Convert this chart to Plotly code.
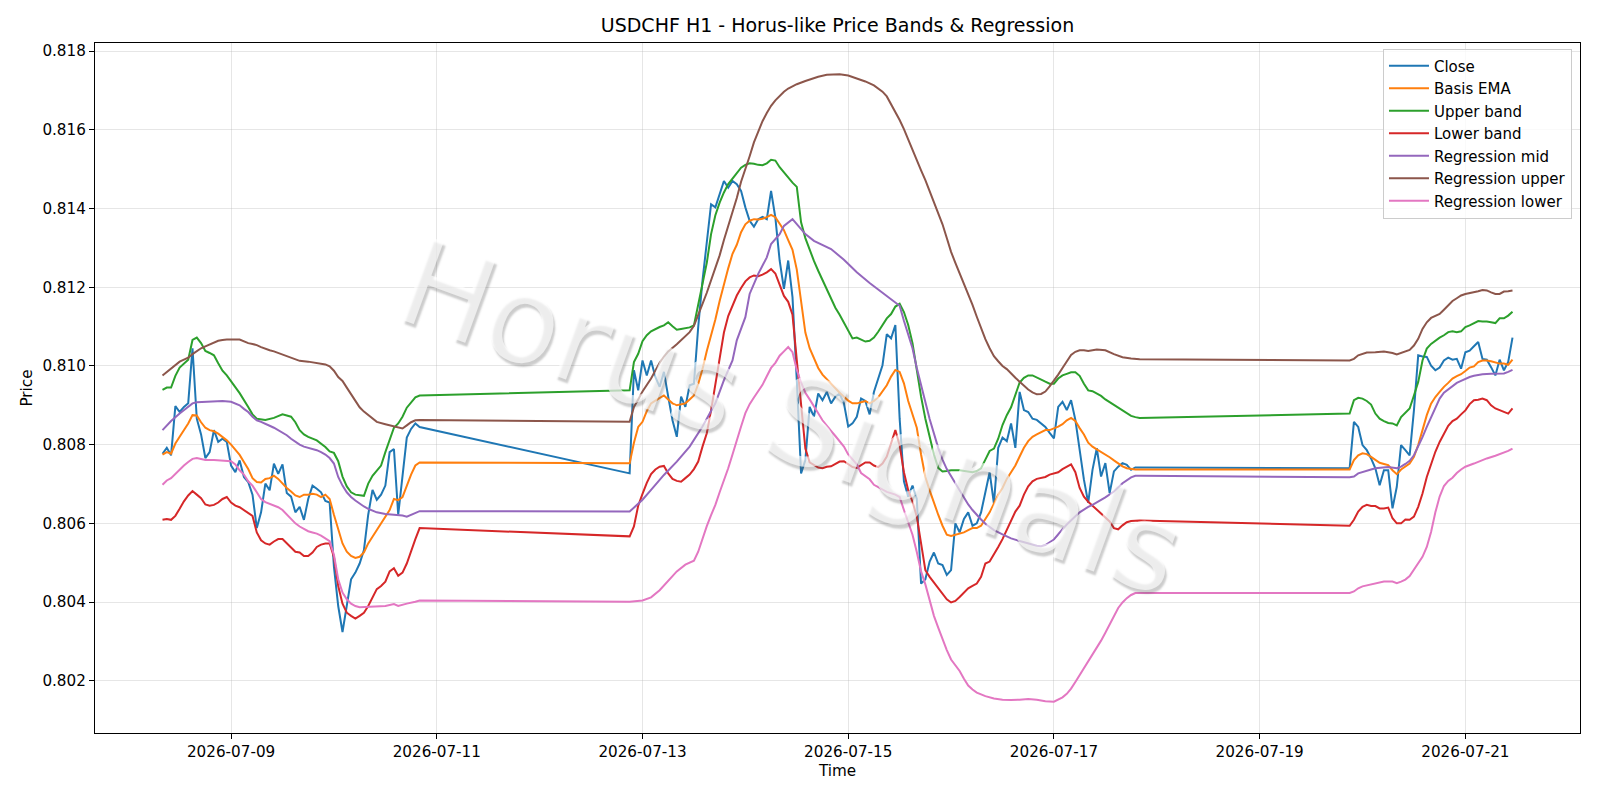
import pandas as pd
import plotly.graph_objects as go

YEAR = "2026"
TITLE = "USDCHF H1 - Horus-like Price Bands & Regression"
WATERMARK = "Horus Signals"
X_LABEL = "Time"
Y_LABEL = "Price"

CLOSE = [
    ("07-08 08", 0.80777), ("07-08 09", 0.80792), ("07-08 10", 0.80773), ("07-08 11", 0.80898),
    ("07-08 12", 0.80883), ("07-08 13", 0.80896), ("07-08 14", 0.80905), ("07-08 15", 0.81045),
    ("07-08 16", 0.80866), ("07-08 17", 0.80826), ("07-08 18", 0.80766), ("07-08 19", 0.80781),
    ("07-08 20", 0.80837), ("07-08 21", 0.80807), ("07-08 22", 0.80815), ("07-08 23", 0.80807),
    ("07-09 00", 0.80747), ("07-09 01", 0.80730), ("07-09 02", 0.80760), ("07-09 03", 0.80718),
    ("07-09 04", 0.80705), ("07-09 05", 0.80673), ("07-09 06", 0.80588), ("07-09 07", 0.80628),
    ("07-09 08", 0.80701), ("07-09 09", 0.80684), ("07-09 10", 0.80752), ("07-09 11", 0.80726),
    ("07-09 12", 0.80750), ("07-09 13", 0.80677), ("07-09 14", 0.80668), ("07-09 15", 0.80628),
    ("07-09 16", 0.80642), ("07-09 17", 0.80609), ("07-09 18", 0.80662), ("07-09 19", 0.80696),
    ("07-09 20", 0.80688), ("07-09 21", 0.80679), ("07-09 22", 0.80657), ("07-09 23", 0.80653),
    ("07-10 00", 0.80490), ("07-10 01", 0.80390), ("07-10 02", 0.80324), ("07-10 03", 0.80390),
    ("07-10 04", 0.80458), ("07-10 05", 0.80475), ("07-10 06", 0.80498), ("07-10 07", 0.80532),
    ("07-10 08", 0.80622), ("07-10 09", 0.80685), ("07-10 10", 0.80660), ("07-10 11", 0.80673),
    ("07-10 12", 0.80696), ("07-10 13", 0.80781), ("07-10 14", 0.80789), ("07-10 15", 0.80622),
    ("07-10 16", 0.80718), ("07-10 17", 0.80818), ("07-10 18", 0.80840), ("07-10 19", 0.80854),
    ("07-10 20", 0.80845),
    ("07-12 21", 0.80727), ("07-12 22", 0.80989), ("07-12 23", 0.80938),
    ("07-13 00", 0.81014), ("07-13 01", 0.80976), ("07-13 02", 0.81014), ("07-13 03", 0.80972),
    ("07-13 04", 0.80947), ("07-13 05", 0.80985), ("07-13 06", 0.80922), ("07-13 07", 0.80862),
    ("07-13 08", 0.80820), ("07-13 09", 0.80922), ("07-13 10", 0.80896), ("07-13 11", 0.80951),
    ("07-13 12", 0.80955), ("07-13 13", 0.81099), ("07-13 14", 0.81217), ("07-13 15", 0.81318),
    ("07-13 16", 0.81411), ("07-13 17", 0.81403), ("07-13 18", 0.81436), ("07-13 19", 0.81470),
    ("07-13 20", 0.81453), ("07-13 21", 0.81470), ("07-13 22", 0.81462), ("07-13 23", 0.81445),
    ("07-14 00", 0.81403), ("07-14 01", 0.81369), ("07-14 02", 0.81354), ("07-14 03", 0.81373),
    ("07-14 04", 0.81379), ("07-14 05", 0.81373), ("07-14 06", 0.81445), ("07-14 07", 0.81377),
    ("07-14 08", 0.81268), ("07-14 09", 0.81196), ("07-14 10", 0.81268), ("07-14 11", 0.81175),
    ("07-14 12", 0.80964), ("07-14 13", 0.80727), ("07-14 14", 0.80761), ("07-14 15", 0.80896),
    ("07-14 16", 0.80871), ("07-14 17", 0.80930), ("07-14 18", 0.80913), ("07-14 19", 0.80934),
    ("07-14 20", 0.80905), ("07-14 21", 0.80922), ("07-14 22", 0.80930), ("07-14 23", 0.80905),
    ("07-15 00", 0.80846), ("07-15 01", 0.80854), ("07-15 02", 0.80871), ("07-15 03", 0.80917),
    ("07-15 04", 0.80911), ("07-15 05", 0.80877), ("07-15 06", 0.80934), ("07-15 07", 0.80968),
    ("07-15 08", 0.81002), ("07-15 09", 0.81081), ("07-15 10", 0.81070), ("07-15 11", 0.81104),
    ("07-15 12", 0.80866), ("07-15 13", 0.80707), ("07-15 14", 0.80668), ("07-15 15", 0.80696),
    ("07-15 16", 0.80662), ("07-15 17", 0.80447), ("07-15 18", 0.80458), ("07-15 19", 0.80503),
    ("07-15 20", 0.80526), ("07-15 21", 0.80498), ("07-15 22", 0.80494), ("07-15 23", 0.80469),
    ("07-16 00", 0.80481), ("07-16 01", 0.80600), ("07-16 02", 0.80577), ("07-16 03", 0.80611),
    ("07-16 04", 0.80628), ("07-16 05", 0.80594), ("07-16 06", 0.80600), ("07-16 07", 0.80628),
    ("07-16 08", 0.80684), ("07-16 09", 0.80730), ("07-16 10", 0.80650), ("07-16 11", 0.80792),
    ("07-16 12", 0.80818), ("07-16 13", 0.80809), ("07-16 14", 0.80854), ("07-16 15", 0.80792),
    ("07-16 16", 0.80934), ("07-16 17", 0.80888), ("07-16 18", 0.80883), ("07-16 19", 0.80866),
    ("07-16 20", 0.80863), ("07-16 21", 0.80854), ("07-16 22", 0.80845), ("07-16 23", 0.80830),
    ("07-17 00", 0.80816), ("07-17 01", 0.80896), ("07-17 02", 0.80909), ("07-17 03", 0.80888),
    ("07-17 04", 0.80913), ("07-17 05", 0.80863), ("07-17 06", 0.80787), ("07-17 07", 0.80711),
    ("07-17 08", 0.80652), ("07-17 09", 0.80736), ("07-17 10", 0.80791), ("07-17 11", 0.80719),
    ("07-17 12", 0.80753), ("07-17 13", 0.80677), ("07-17 14", 0.80732), ("07-17 15", 0.80744),
    ("07-17 16", 0.80753), ("07-17 17", 0.80749), ("07-17 18", 0.80736), ("07-17 19", 0.80742),
    ("07-17 20", 0.80742),
    ("07-19 21", 0.80740), ("07-19 22", 0.80858), ("07-19 23", 0.80845),
    ("07-20 00", 0.80799), ("07-20 01", 0.80786), ("07-20 02", 0.80765), ("07-20 03", 0.80740),
    ("07-20 04", 0.80697), ("07-20 05", 0.80735), ("07-20 06", 0.80735), ("07-20 07", 0.80638),
    ("07-20 08", 0.80693), ("07-20 09", 0.80799), ("07-20 10", 0.80786), ("07-20 11", 0.80773),
    ("07-20 12", 0.80887), ("07-20 13", 0.81027), ("07-20 14", 0.81024), ("07-20 15", 0.81023),
    ("07-20 16", 0.81001), ("07-20 17", 0.80989), ("07-20 18", 0.80996), ("07-20 19", 0.81014),
    ("07-20 20", 0.81021), ("07-20 21", 0.81016), ("07-20 22", 0.81018), ("07-20 23", 0.80993),
    ("07-21 00", 0.81035), ("07-21 01", 0.81039), ("07-21 02", 0.81050), ("07-21 03", 0.81061),
    ("07-21 04", 0.81018), ("07-21 05", 0.81016), ("07-21 06", 0.80997), ("07-21 07", 0.80976),
    ("07-21 08", 0.81016), ("07-21 09", 0.80989), ("07-21 10", 0.81010), ("07-21 11", 0.81072),
]

BASIS_EMA = [
    ("07-08 08", 0.80775), ("07-08 09", 0.80781), ("07-08 10", 0.80777), ("07-08 11", 0.80803),
    ("07-08 12", 0.80820), ("07-08 13", 0.80837), ("07-08 14", 0.80854), ("07-08 15", 0.80875),
    ("07-08 16", 0.80874), ("07-08 17", 0.80857), ("07-08 18", 0.80843), ("07-08 19", 0.80837),
    ("07-08 20", 0.80834), ("07-08 21", 0.80828), ("07-08 22", 0.80820), ("07-08 23", 0.80811),
    ("07-09 00", 0.80800), ("07-09 01", 0.80788), ("07-09 02", 0.80774), ("07-09 03", 0.80756),
    ("07-09 04", 0.80738), ("07-09 05", 0.80715), ("07-09 06", 0.80705), ("07-09 07", 0.80704),
    ("07-09 08", 0.80713), ("07-09 09", 0.80715), ("07-09 10", 0.80721), ("07-09 11", 0.80713),
    ("07-09 12", 0.80701), ("07-09 13", 0.80690), ("07-09 14", 0.80681), ("07-09 15", 0.80671),
    ("07-09 16", 0.80667), ("07-09 17", 0.80673), ("07-09 18", 0.80673), ("07-09 19", 0.80675),
    ("07-09 20", 0.80673), ("07-09 21", 0.80667), ("07-09 22", 0.80673), ("07-09 23", 0.80662),
    ("07-10 00", 0.80622), ("07-10 01", 0.80583), ("07-10 02", 0.80549), ("07-10 03", 0.80528),
    ("07-10 04", 0.80517), ("07-10 05", 0.80512), ("07-10 06", 0.80515), ("07-10 07", 0.80526),
    ("07-10 08", 0.80549), ("07-10 09", 0.80566), ("07-10 10", 0.80583), ("07-10 11", 0.80600),
    ("07-10 12", 0.80614), ("07-10 13", 0.80634), ("07-10 14", 0.80662), ("07-10 15", 0.80659),
    ("07-10 16", 0.80667), ("07-10 17", 0.80698), ("07-10 18", 0.80724), ("07-10 19", 0.80747),
    ("07-10 20", 0.80755),
    ("07-12 21", 0.80753), ("07-12 22", 0.80805), ("07-12 23", 0.80845),
    ("07-13 00", 0.80858), ("07-13 01", 0.80885), ("07-13 02", 0.80905), ("07-13 03", 0.80912),
    ("07-13 04", 0.80919), ("07-13 05", 0.80925), ("07-13 06", 0.80915), ("07-13 07", 0.80905),
    ("07-13 08", 0.80900), ("07-13 09", 0.80902), ("07-13 10", 0.80905), ("07-13 11", 0.80915),
    ("07-13 12", 0.80925), ("07-13 13", 0.80954), ("07-13 14", 0.80992), ("07-13 15", 0.81038),
    ("07-13 16", 0.81075), ("07-13 17", 0.81118), ("07-13 18", 0.81165), ("07-13 19", 0.81208),
    ("07-13 20", 0.81248), ("07-13 21", 0.81285), ("07-13 22", 0.81308), ("07-13 23", 0.81340),
    ("07-14 00", 0.81360), ("07-14 01", 0.81369), ("07-14 02", 0.81373), ("07-14 03", 0.81372),
    ("07-14 04", 0.81374), ("07-14 05", 0.81378), ("07-14 06", 0.81384), ("07-14 07", 0.81378),
    ("07-14 08", 0.81362), ("07-14 09", 0.81345), ("07-14 10", 0.81320), ("07-14 11", 0.81295),
    ("07-14 12", 0.81245), ("07-14 13", 0.81170), ("07-14 14", 0.81085), ("07-14 15", 0.81045),
    ("07-14 16", 0.81020), ("07-14 17", 0.80995), ("07-14 18", 0.80978), ("07-14 19", 0.80966),
    ("07-14 20", 0.80955), ("07-14 21", 0.80942), ("07-14 22", 0.80932), ("07-14 23", 0.80922),
    ("07-15 00", 0.80912), ("07-15 01", 0.80905), ("07-15 02", 0.80905), ("07-15 03", 0.80908),
    ("07-15 04", 0.80911), ("07-15 05", 0.80905), ("07-15 06", 0.80911), ("07-15 07", 0.80920),
    ("07-15 08", 0.80934), ("07-15 09", 0.80951), ("07-15 10", 0.80973), ("07-15 11", 0.80990),
    ("07-15 12", 0.80985), ("07-15 13", 0.80956), ("07-15 14", 0.80911), ("07-15 15", 0.80877),
    ("07-15 16", 0.80843), ("07-15 17", 0.80775), ("07-15 18", 0.80718), ("07-15 19", 0.80684),
    ("07-15 20", 0.80650), ("07-15 21", 0.80622), ("07-15 22", 0.80594), ("07-15 23", 0.80571),
    ("07-16 00", 0.80568), ("07-16 01", 0.80571), ("07-16 02", 0.80574), ("07-16 03", 0.80577),
    ("07-16 04", 0.80583), ("07-16 05", 0.80588), ("07-16 06", 0.80588), ("07-16 07", 0.80594),
    ("07-16 08", 0.80611), ("07-16 09", 0.80628), ("07-16 10", 0.80650), ("07-16 11", 0.80673),
    ("07-16 12", 0.80690), ("07-16 13", 0.80713), ("07-16 14", 0.80730), ("07-16 15", 0.80747),
    ("07-16 16", 0.80770), ("07-16 17", 0.80792), ("07-16 18", 0.80809), ("07-16 19", 0.80820),
    ("07-16 20", 0.80826), ("07-16 21", 0.80832), ("07-16 22", 0.80837), ("07-16 23", 0.80837),
    ("07-17 00", 0.80841), ("07-17 01", 0.80846), ("07-17 02", 0.80852), ("07-17 03", 0.80862),
    ("07-17 04", 0.80868), ("07-17 05", 0.80860), ("07-17 06", 0.80842), ("07-17 07", 0.80826),
    ("07-17 08", 0.80805), ("07-17 09", 0.80795), ("07-17 10", 0.80788), ("07-17 11", 0.80782),
    ("07-17 12", 0.80776), ("07-17 13", 0.80768), ("07-17 14", 0.80760), ("07-17 15", 0.80752),
    ("07-17 16", 0.80745), ("07-17 17", 0.80740), ("07-17 18", 0.80738), ("07-17 19", 0.80737),
    ("07-17 20", 0.80737),
    ("07-19 21", 0.80737), ("07-19 22", 0.80761), ("07-19 23", 0.80773),
    ("07-20 00", 0.80778), ("07-20 01", 0.80776), ("07-20 02", 0.80769), ("07-20 03", 0.80761),
    ("07-20 04", 0.80754), ("07-20 05", 0.80751), ("07-20 06", 0.80748), ("07-20 07", 0.80735),
    ("07-20 08", 0.80725), ("07-20 09", 0.80737), ("07-20 10", 0.80744), ("07-20 11", 0.80752),
    ("07-20 12", 0.80769), ("07-20 13", 0.80799), ("07-20 14", 0.80837), ("07-20 15", 0.80875),
    ("07-20 16", 0.80904), ("07-20 17", 0.80921), ("07-20 18", 0.80934), ("07-20 19", 0.80947),
    ("07-20 20", 0.80957), ("07-20 21", 0.80968), ("07-20 22", 0.80974), ("07-20 23", 0.80979),
    ("07-21 00", 0.80987), ("07-21 01", 0.80996), ("07-21 02", 0.80999), ("07-21 03", 0.81010),
    ("07-21 04", 0.81014), ("07-21 05", 0.81014), ("07-21 06", 0.81012), ("07-21 07", 0.81008),
    ("07-21 08", 0.81006), ("07-21 09", 0.81006), ("07-21 10", 0.81003), ("07-21 11", 0.81016),
]

UPPER_BAND = [
    ("07-08 08", 0.80939), ("07-08 09", 0.80945), ("07-08 10", 0.80945), ("07-08 11", 0.80975),
    ("07-08 12", 0.80996), ("07-08 13", 0.81007), ("07-08 14", 0.81016), ("07-08 15", 0.81066),
    ("07-08 16", 0.81072), ("07-08 17", 0.81058), ("07-08 18", 0.81038), ("07-08 19", 0.81033),
    ("07-08 20", 0.81027), ("07-08 21", 0.81007), ("07-08 22", 0.80988), ("07-08 23", 0.80976),
    ("07-09 00", 0.80962), ("07-09 02", 0.80931), ("07-09 04", 0.80896), ("07-09 05", 0.80877),
    ("07-09 06", 0.80866), ("07-09 08", 0.80863), ("07-09 10", 0.80868), ("07-09 12", 0.80877),
    ("07-09 14", 0.80871), ("07-09 15", 0.80857), ("07-09 16", 0.80837), ("07-09 17", 0.80826),
    ("07-09 18", 0.80820), ("07-09 20", 0.80811), ("07-09 22", 0.80794), ("07-09 23", 0.80783),
    ("07-10 00", 0.80779), ("07-10 01", 0.80758), ("07-10 02", 0.80719), ("07-10 03", 0.80694),
    ("07-10 04", 0.80679), ("07-10 05", 0.80673), ("07-10 07", 0.80670), ("07-10 08", 0.80701),
    ("07-10 09", 0.80721), ("07-10 10", 0.80733), ("07-10 11", 0.80747), ("07-10 12", 0.80781),
    ("07-10 13", 0.80815), ("07-10 14", 0.80843), ("07-10 15", 0.80854), ("07-10 16", 0.80871),
    ("07-10 17", 0.80894), ("07-10 18", 0.80908), ("07-10 19", 0.80920), ("07-10 20", 0.80925),
    ("07-12 21", 0.80938), ("07-12 22", 0.81010), ("07-12 23", 0.81031),
    ("07-13 00", 0.81063), ("07-13 01", 0.81078), ("07-13 02", 0.81088), ("07-13 03", 0.81094),
    ("07-13 04", 0.81099), ("07-13 05", 0.81103), ("07-13 06", 0.81111), ("07-13 07", 0.81101),
    ("07-13 08", 0.81092), ("07-13 09", 0.81094), ("07-13 10", 0.81096), ("07-13 11", 0.81098),
    ("07-13 12", 0.81103), ("07-13 13", 0.81158), ("07-13 14", 0.81212), ("07-13 15", 0.81262),
    ("07-13 16", 0.81335), ("07-13 17", 0.81383), ("07-13 18", 0.81415), ("07-13 19", 0.81441),
    ("07-13 20", 0.81462), ("07-13 21", 0.81476), ("07-13 22", 0.81488), ("07-13 23", 0.81504),
    ("07-14 00", 0.81511), ("07-14 01", 0.81515), ("07-14 02", 0.81514), ("07-14 03", 0.81511),
    ("07-14 04", 0.81510), ("07-14 05", 0.81515), ("07-14 06", 0.81524), ("07-14 07", 0.81522),
    ("07-14 08", 0.81505), ("07-14 09", 0.81491), ("07-14 10", 0.81478), ("07-14 11", 0.81466),
    ("07-14 12", 0.81455), ("07-14 13", 0.81365), ("07-14 14", 0.81325), ("07-14 15", 0.81295),
    ("07-14 16", 0.81267), ("07-14 17", 0.81242), ("07-14 18", 0.81218), ("07-14 19", 0.81192),
    ("07-14 20", 0.81168), ("07-14 21", 0.81148), ("07-14 22", 0.81130), ("07-14 23", 0.81110),
    ("07-15 00", 0.81088), ("07-15 01", 0.81070), ("07-15 02", 0.81072), ("07-15 03", 0.81066),
    ("07-15 04", 0.81062), ("07-15 05", 0.81064), ("07-15 06", 0.81072), ("07-15 07", 0.81087),
    ("07-15 08", 0.81104), ("07-15 09", 0.81121), ("07-15 10", 0.81132), ("07-15 11", 0.81151),
    ("07-15 12", 0.81158), ("07-15 13", 0.81137), ("07-15 14", 0.81104), ("07-15 15", 0.81058),
    ("07-15 16", 0.80990), ("07-15 17", 0.80922), ("07-15 18", 0.80866), ("07-15 19", 0.80820),
    ("07-15 20", 0.80775), ("07-15 21", 0.80741), ("07-15 22", 0.80732), ("07-15 23", 0.80733),
    ("07-16 00", 0.80735), ("07-16 02", 0.80735), ("07-16 04", 0.80732), ("07-16 05", 0.80730),
    ("07-16 06", 0.80733), ("07-16 07", 0.80740), ("07-16 08", 0.80762), ("07-16 09", 0.80784),
    ("07-16 10", 0.80790), ("07-16 11", 0.80815), ("07-16 12", 0.80850), ("07-16 13", 0.80875),
    ("07-16 14", 0.80895), ("07-16 15", 0.80925), ("07-16 16", 0.80958), ("07-16 17", 0.80970),
    ("07-16 18", 0.80976), ("07-16 19", 0.80976), ("07-16 20", 0.80970), ("07-16 21", 0.80965),
    ("07-16 22", 0.80960), ("07-16 23", 0.80955), ("07-17 00", 0.80955), ("07-17 01", 0.80968),
    ("07-17 02", 0.80976), ("07-17 03", 0.80980), ("07-17 04", 0.80984), ("07-17 05", 0.80984),
    ("07-17 06", 0.80975), ("07-17 07", 0.80955), ("07-17 08", 0.80938), ("07-17 09", 0.80936),
    ("07-17 10", 0.80930), ("07-17 11", 0.80924), ("07-17 12", 0.80915), ("07-17 13", 0.80908),
    ("07-17 14", 0.80900), ("07-17 15", 0.80893), ("07-17 16", 0.80887), ("07-17 17", 0.80880),
    ("07-17 18", 0.80873), ("07-17 19", 0.80870), ("07-17 20", 0.80868),
    ("07-19 21", 0.80879), ("07-19 22", 0.80913), ("07-19 23", 0.80919),
    ("07-20 00", 0.80917), ("07-20 01", 0.80911), ("07-20 02", 0.80902), ("07-20 03", 0.80879),
    ("07-20 04", 0.80866), ("07-20 05", 0.80860), ("07-20 06", 0.80855), ("07-20 07", 0.80854),
    ("07-20 08", 0.80849), ("07-20 09", 0.80870), ("07-20 10", 0.80881), ("07-20 11", 0.80892),
    ("07-20 12", 0.80925), ("07-20 13", 0.80959), ("07-20 14", 0.81014), ("07-20 15", 0.81044),
    ("07-20 16", 0.81056), ("07-20 17", 0.81065), ("07-20 18", 0.81072), ("07-20 19", 0.81078),
    ("07-20 20", 0.81086), ("07-20 21", 0.81088), ("07-20 22", 0.81086), ("07-20 23", 0.81088),
    ("07-21 00", 0.81099), ("07-21 01", 0.81103), ("07-21 02", 0.81109), ("07-21 03", 0.81114),
    ("07-21 04", 0.81113), ("07-21 05", 0.81113), ("07-21 06", 0.81111), ("07-21 07", 0.81109),
    ("07-21 08", 0.81121), ("07-21 09", 0.81121), ("07-21 10", 0.81128), ("07-21 11", 0.81138),
]

LOWER_BAND = [
    ("07-08 08", 0.80609), ("07-08 09", 0.80611), ("07-08 10", 0.80609), ("07-08 11", 0.80619),
    ("07-08 12", 0.80637), ("07-08 13", 0.80656), ("07-08 14", 0.80671), ("07-08 15", 0.80682),
    ("07-08 16", 0.80673), ("07-08 17", 0.80664), ("07-08 18", 0.80648), ("07-08 19", 0.80645),
    ("07-08 20", 0.80647), ("07-08 21", 0.80653), ("07-08 22", 0.80662), ("07-08 23", 0.80667),
    ("07-09 00", 0.80653), ("07-09 01", 0.80645), ("07-09 02", 0.80641), ("07-09 03", 0.80634),
    ("07-09 04", 0.80628), ("07-09 05", 0.80619), ("07-09 06", 0.80577), ("07-09 07", 0.80557),
    ("07-09 08", 0.80549), ("07-09 09", 0.80546), ("07-09 10", 0.80554), ("07-09 11", 0.80560),
    ("07-09 12", 0.80560), ("07-09 13", 0.80549), ("07-09 14", 0.80537), ("07-09 15", 0.80528),
    ("07-09 16", 0.80526), ("07-09 17", 0.80517), ("07-09 18", 0.80517), ("07-09 19", 0.80526),
    ("07-09 20", 0.80540), ("07-09 21", 0.80546), ("07-09 22", 0.80549), ("07-09 23", 0.80549),
    ("07-10 00", 0.80515), ("07-10 01", 0.80441), ("07-10 02", 0.80396), ("07-10 03", 0.80373),
    ("07-10 04", 0.80365), ("07-10 05", 0.80358), ("07-10 06", 0.80365), ("07-10 07", 0.80373),
    ("07-10 08", 0.80390), ("07-10 09", 0.80413), ("07-10 10", 0.80433), ("07-10 11", 0.80441),
    ("07-10 12", 0.80452), ("07-10 13", 0.80478), ("07-10 14", 0.80486), ("07-10 15", 0.80467),
    ("07-10 16", 0.80475), ("07-10 17", 0.80498), ("07-10 18", 0.80532), ("07-10 19", 0.80560),
    ("07-10 20", 0.80588),
    ("07-12 21", 0.80567), ("07-12 22", 0.80592), ("07-12 23", 0.80645),
    ("07-13 00", 0.80675), ("07-13 01", 0.80703), ("07-13 02", 0.80725), ("07-13 03", 0.80737),
    ("07-13 04", 0.80744), ("07-13 05", 0.80746), ("07-13 06", 0.80727), ("07-13 07", 0.80713),
    ("07-13 08", 0.80708), ("07-13 09", 0.80706), ("07-13 10", 0.80715), ("07-13 11", 0.80724),
    ("07-13 12", 0.80738), ("07-13 13", 0.80757), ("07-13 14", 0.80795), ("07-13 15", 0.80829),
    ("07-13 16", 0.80887), ("07-13 17", 0.80953), ("07-13 18", 0.81025), ("07-13 19", 0.81085),
    ("07-13 20", 0.81127), ("07-13 21", 0.81155), ("07-13 22", 0.81179), ("07-13 23", 0.81198),
    ("07-14 00", 0.81215), ("07-14 01", 0.81225), ("07-14 02", 0.81230), ("07-14 03", 0.81228),
    ("07-14 04", 0.81232), ("07-14 05", 0.81238), ("07-14 06", 0.81246), ("07-14 07", 0.81235),
    ("07-14 08", 0.81205), ("07-14 09", 0.81178), ("07-14 10", 0.81163), ("07-14 11", 0.81130),
    ("07-14 12", 0.81015), ("07-14 13", 0.80895), ("07-14 14", 0.80790), ("07-14 15", 0.80755),
    ("07-14 16", 0.80748), ("07-14 17", 0.80742), ("07-14 18", 0.80740), ("07-14 19", 0.80744),
    ("07-14 20", 0.80745), ("07-14 21", 0.80750), ("07-14 22", 0.80757), ("07-14 23", 0.80758),
    ("07-15 00", 0.80750), ("07-15 01", 0.80743), ("07-15 02", 0.80741), ("07-15 03", 0.80747),
    ("07-15 04", 0.80755), ("07-15 05", 0.80755), ("07-15 06", 0.80747), ("07-15 07", 0.80743),
    ("07-15 08", 0.80752), ("07-15 09", 0.80770), ("07-15 10", 0.80805), ("07-15 11", 0.80837),
    ("07-15 12", 0.80798), ("07-15 13", 0.80730), ("07-15 14", 0.80684), ("07-15 15", 0.80655),
    ("07-15 16", 0.80617), ("07-15 17", 0.80549), ("07-15 18", 0.80481), ("07-15 19", 0.80464),
    ("07-15 20", 0.80449), ("07-15 21", 0.80435), ("07-15 22", 0.80422), ("07-15 23", 0.80407),
    ("07-16 00", 0.80399), ("07-16 01", 0.80403), ("07-16 02", 0.80413), ("07-16 03", 0.80424),
    ("07-16 04", 0.80435), ("07-16 05", 0.80441), ("07-16 06", 0.80447), ("07-16 07", 0.80464),
    ("07-16 08", 0.80498), ("07-16 09", 0.80503), ("07-16 10", 0.80520), ("07-16 11", 0.80540),
    ("07-16 12", 0.80560), ("07-16 13", 0.80583), ("07-16 14", 0.80605), ("07-16 15", 0.80630),
    ("07-16 16", 0.80645), ("07-16 17", 0.80673), ("07-16 18", 0.80694), ("07-16 19", 0.80707),
    ("07-16 20", 0.80713), ("07-16 21", 0.80715), ("07-16 22", 0.80718), ("07-16 23", 0.80724),
    ("07-17 00", 0.80728), ("07-17 01", 0.80730), ("07-17 02", 0.80738), ("07-17 03", 0.80745),
    ("07-17 04", 0.80750), ("07-17 05", 0.80730), ("07-17 06", 0.80690), ("07-17 07", 0.80668),
    ("07-17 08", 0.80655), ("07-17 09", 0.80645), ("07-17 10", 0.80635), ("07-17 11", 0.80625),
    ("07-17 12", 0.80617), ("07-17 13", 0.80605), ("07-17 14", 0.80588), ("07-17 15", 0.80585),
    ("07-17 16", 0.80595), ("07-17 17", 0.80603), ("07-17 18", 0.80606), ("07-17 19", 0.80607),
    ("07-17 20", 0.80607),
    ("07-19 21", 0.80594), ("07-19 22", 0.80609), ("07-19 23", 0.80630),
    ("07-20 00", 0.80642), ("07-20 01", 0.80647), ("07-20 02", 0.80644), ("07-20 03", 0.80644),
    ("07-20 04", 0.80638), ("07-20 05", 0.80638), ("07-20 06", 0.80640), ("07-20 07", 0.80613),
    ("07-20 08", 0.80600), ("07-20 09", 0.80600), ("07-20 10", 0.80610), ("07-20 11", 0.80609),
    ("07-20 12", 0.80617), ("07-20 13", 0.80642), ("07-20 14", 0.80676), ("07-20 15", 0.80718),
    ("07-20 16", 0.80752), ("07-20 17", 0.80782), ("07-20 18", 0.80807), ("07-20 19", 0.80828),
    ("07-20 20", 0.80848), ("07-20 21", 0.80860), ("07-20 22", 0.80866), ("07-20 23", 0.80877),
    ("07-21 00", 0.80887), ("07-21 01", 0.80903), ("07-21 02", 0.80913), ("07-21 03", 0.80914),
    ("07-21 04", 0.80917), ("07-21 05", 0.80913), ("07-21 06", 0.80900), ("07-21 07", 0.80892),
    ("07-21 08", 0.80887), ("07-21 09", 0.80883), ("07-21 10", 0.80879), ("07-21 11", 0.80892),
]

REGRESSION_MID = [
    ("07-08 08", 0.80837), ("07-08 10", 0.80860), ("07-08 12", 0.80879), ("07-08 14", 0.80896),
    ("07-08 15", 0.80905), ("07-08 16", 0.80908), ("07-08 18", 0.80909), ("07-08 20", 0.80911),
    ("07-08 22", 0.80911), ("07-09 00", 0.80909), ("07-09 01", 0.80905), ("07-09 02", 0.80900),
    ("07-09 03", 0.80891), ("07-09 04", 0.80883), ("07-09 05", 0.80871), ("07-09 06", 0.80862),
    ("07-09 07", 0.80858), ("07-09 08", 0.80852), ("07-09 09", 0.80848), ("07-09 10", 0.80843),
    ("07-09 11", 0.80837), ("07-09 12", 0.80832), ("07-09 13", 0.80824), ("07-09 14", 0.80815),
    ("07-09 15", 0.80807), ("07-09 16", 0.80800), ("07-09 17", 0.80795), ("07-09 18", 0.80792),
    ("07-09 19", 0.80790), ("07-09 20", 0.80786), ("07-09 21", 0.80781), ("07-09 22", 0.80775),
    ("07-09 23", 0.80766), ("07-10 00", 0.80752), ("07-10 01", 0.80718), ("07-10 02", 0.80696),
    ("07-10 03", 0.80679), ("07-10 04", 0.80667), ("07-10 05", 0.80658), ("07-10 06", 0.80650),
    ("07-10 07", 0.80643), ("07-10 08", 0.80637), ("07-10 09", 0.80632), ("07-10 10", 0.80628),
    ("07-10 12", 0.80624), ("07-10 14", 0.80622), ("07-10 16", 0.80620), ("07-10 17", 0.80617),
    ("07-10 18", 0.80622), ("07-10 19", 0.80628), ("07-10 20", 0.80631),
    ("07-12 21", 0.80630), ("07-13 00", 0.80660), ("07-13 02", 0.80685), ("07-13 05", 0.80723),
    ("07-13 08", 0.80757), ("07-13 11", 0.80795), ("07-13 14", 0.80846), ("07-13 17", 0.80905),
    ("07-13 19", 0.80964), ("07-13 21", 0.81014), ("07-13 22", 0.81065), ("07-14 00", 0.81124),
    ("07-14 01", 0.81183), ("07-14 03", 0.81234), ("07-14 05", 0.81276), ("07-14 06", 0.81310),
    ("07-14 08", 0.81335), ("07-14 09", 0.81356), ("07-14 11", 0.81373), ("07-14 12", 0.81360),
    ("07-14 14", 0.81335), ("07-14 16", 0.81318), ("07-14 20", 0.81297), ("07-14 23", 0.81270),
    ("07-15 02", 0.81238), ("07-15 05", 0.81211), ("07-15 07", 0.81194), ("07-15 09", 0.81177),
    ("07-15 12", 0.81153), ("07-15 13", 0.81115), ("07-15 15", 0.81045), ("07-15 16", 0.80995),
    ("07-15 18", 0.80905), ("07-15 19", 0.80865), ("07-15 21", 0.80792), ("07-15 22", 0.80762),
    ("07-15 23", 0.80738), ("07-16 00", 0.80720), ("07-16 01", 0.80700), ("07-16 02", 0.80682),
    ("07-16 03", 0.80665), ("07-16 04", 0.80648), ("07-16 05", 0.80634), ("07-16 06", 0.80621),
    ("07-16 07", 0.80610), ("07-16 08", 0.80599), ("07-16 10", 0.80583), ("07-16 12", 0.80572),
    ("07-16 14", 0.80562), ("07-16 16", 0.80555), ("07-16 18", 0.80548), ("07-16 20", 0.80543),
    ("07-16 21", 0.80542), ("07-16 22", 0.80545), ("07-16 23", 0.80552), ("07-17 00", 0.80559),
    ("07-17 02", 0.80585), ("07-17 03", 0.80597), ("07-17 05", 0.80618), ("07-17 06", 0.80628),
    ("07-17 08", 0.80642), ("07-17 09", 0.80647), ("07-17 12", 0.80666), ("07-17 14", 0.80681),
    ("07-17 16", 0.80702), ("07-17 18", 0.80717), ("07-17 19", 0.80721), ("07-17 20", 0.80721),
    ("07-19 21", 0.80717), ("07-19 22", 0.80719), ("07-19 23", 0.80727), ("07-20 00", 0.80731),
    ("07-20 01", 0.80735), ("07-20 02", 0.80737), ("07-20 03", 0.80740), ("07-20 05", 0.80742),
    ("07-20 06", 0.80743), ("07-20 08", 0.80740), ("07-20 09", 0.80744), ("07-20 10", 0.80751),
    ("07-20 11", 0.80759), ("07-20 12", 0.80773), ("07-20 13", 0.80794), ("07-20 14", 0.80819),
    ("07-20 15", 0.80845), ("07-20 16", 0.80870), ("07-20 17", 0.80896), ("07-20 18", 0.80917),
    ("07-20 19", 0.80932), ("07-20 20", 0.80940), ("07-20 21", 0.80948), ("07-20 22", 0.80957),
    ("07-20 23", 0.80962), ("07-21 00", 0.80968), ("07-21 01", 0.80972), ("07-21 02", 0.80975),
    ("07-21 03", 0.80977), ("07-21 04", 0.80979), ("07-21 06", 0.80980), ("07-21 08", 0.80980),
    ("07-21 09", 0.80981), ("07-21 10", 0.80985), ("07-21 11", 0.80990),
]

REGRESSION_UPPER = [
    ("07-08 08", 0.80976), ("07-08 09", 0.80985), ("07-08 10", 0.80994), ("07-08 11", 0.81004),
    ("07-08 12", 0.81011), ("07-08 13", 0.81016), ("07-08 14", 0.81021), ("07-08 15", 0.81030),
    ("07-08 16", 0.81038), ("07-08 17", 0.81045), ("07-08 18", 0.81050), ("07-08 19", 0.81055),
    ("07-08 20", 0.81061), ("07-08 21", 0.81064), ("07-08 22", 0.81066), ("07-08 23", 0.81067),
    ("07-09 02", 0.81067), ("07-09 03", 0.81062), ("07-09 04", 0.81058), ("07-09 05", 0.81056),
    ("07-09 06", 0.81053), ("07-09 07", 0.81048), ("07-09 08", 0.81043), ("07-09 09", 0.81040),
    ("07-09 10", 0.81037), ("07-09 11", 0.81033), ("07-09 12", 0.81029), ("07-09 13", 0.81024),
    ("07-09 14", 0.81021), ("07-09 15", 0.81016), ("07-09 16", 0.81013), ("07-09 18", 0.81011),
    ("07-09 20", 0.81008), ("07-09 21", 0.81007), ("07-09 22", 0.81004), ("07-09 23", 0.80999),
    ("07-10 00", 0.80988), ("07-10 01", 0.80972), ("07-10 02", 0.80962), ("07-10 03", 0.80945),
    ("07-10 05", 0.80911), ("07-10 06", 0.80895), ("07-10 07", 0.80884), ("07-10 09", 0.80868),
    ("07-10 10", 0.80858), ("07-10 12", 0.80852), ("07-10 14", 0.80847), ("07-10 16", 0.80841),
    ("07-10 17", 0.80849), ("07-10 18", 0.80857), ("07-10 19", 0.80862), ("07-10 20", 0.80863),
    ("07-12 21", 0.80858), ("07-12 22", 0.80896), ("07-12 23", 0.80915),
    ("07-13 00", 0.80935), ("07-13 02", 0.80968), ("07-13 03", 0.80989), ("07-13 04", 0.81008),
    ("07-13 05", 0.81024), ("07-13 06", 0.81037), ("07-13 08", 0.81055), ("07-13 10", 0.81074),
    ("07-13 11", 0.81086), ("07-13 12", 0.81102), ("07-13 13", 0.81128), ("07-13 14", 0.81158),
    ("07-13 15", 0.81186), ("07-13 16", 0.81218), ("07-13 17", 0.81249), ("07-13 18", 0.81281),
    ("07-13 19", 0.81320), ("07-13 20", 0.81355), ("07-13 21", 0.81392), ("07-13 22", 0.81427),
    ("07-13 23", 0.81468), ("07-14 00", 0.81498), ("07-14 01", 0.81533), ("07-14 02", 0.81568),
    ("07-14 03", 0.81597), ("07-14 04", 0.81622), ("07-14 05", 0.81643), ("07-14 06", 0.81661),
    ("07-14 07", 0.81675), ("07-14 08", 0.81687), ("07-14 09", 0.81697), ("07-14 10", 0.81705),
    ("07-14 12", 0.81716), ("07-14 14", 0.81724), ("07-14 17", 0.81735), ("07-14 19", 0.81740),
    ("07-14 22", 0.81741), ("07-15 00", 0.81738), ("07-15 02", 0.81731), ("07-15 04", 0.81723),
    ("07-15 06", 0.81713), ("07-15 07", 0.81705), ("07-15 08", 0.81697), ("07-15 09", 0.81685),
    ("07-15 10", 0.81666), ("07-15 11", 0.81645), ("07-15 12", 0.81625), ("07-15 13", 0.81602),
    ("07-15 14", 0.81575), ("07-15 15", 0.81548), ("07-15 16", 0.81523), ("07-15 17", 0.81497),
    ("07-15 18", 0.81472), ("07-15 19", 0.81445), ("07-15 20", 0.81418), ("07-15 21", 0.81392),
    ("07-15 22", 0.81360), ("07-15 23", 0.81325), ("07-16 00", 0.81290), ("07-16 01", 0.81262),
    ("07-16 02", 0.81236), ("07-16 03", 0.81210), ("07-16 04", 0.81182), ("07-16 05", 0.81155),
    ("07-16 06", 0.81125), ("07-16 07", 0.81095), ("07-16 08", 0.81068), ("07-16 09", 0.81045),
    ("07-16 10", 0.81025), ("07-16 11", 0.81012), ("07-16 12", 0.81000), ("07-16 13", 0.80992),
    ("07-16 14", 0.80980), ("07-16 15", 0.80970), ("07-16 16", 0.80960), ("07-16 17", 0.80950),
    ("07-16 18", 0.80940), ("07-16 19", 0.80933), ("07-16 20", 0.80928), ("07-16 21", 0.80929),
    ("07-16 22", 0.80935), ("07-16 23", 0.80948), ("07-17 00", 0.80962), ("07-17 01", 0.80978),
    ("07-17 02", 0.80995), ("07-17 03", 0.81012), ("07-17 04", 0.81028), ("07-17 05", 0.81036),
    ("07-17 06", 0.81040), ("07-17 07", 0.81040), ("07-17 08", 0.81038), ("07-17 10", 0.81042),
    ("07-17 12", 0.81040), ("07-17 14", 0.81030), ("07-17 16", 0.81022), ("07-17 18", 0.81019),
    ("07-17 20", 0.81017),
    ("07-19 21", 0.81014), ("07-19 22", 0.81018), ("07-19 23", 0.81027), ("07-20 00", 0.81031),
    ("07-20 01", 0.81034), ("07-20 03", 0.81035), ("07-20 05", 0.81037), ("07-20 06", 0.81035),
    ("07-20 07", 0.81033), ("07-20 08", 0.81029), ("07-20 09", 0.81033), ("07-20 10", 0.81038),
    ("07-20 11", 0.81041), ("07-20 12", 0.81052), ("07-20 13", 0.81069), ("07-20 14", 0.81094),
    ("07-20 15", 0.81111), ("07-20 16", 0.81122), ("07-20 17", 0.81126), ("07-20 18", 0.81132),
    ("07-20 19", 0.81143), ("07-20 20", 0.81154), ("07-20 21", 0.81165), ("07-20 22", 0.81172),
    ("07-20 23", 0.81179), ("07-21 00", 0.81183), ("07-21 01", 0.81185), ("07-21 02", 0.81187),
    ("07-21 03", 0.81190), ("07-21 04", 0.81193), ("07-21 05", 0.81192), ("07-21 06", 0.81187),
    ("07-21 07", 0.81183), ("07-21 08", 0.81183), ("07-21 09", 0.81189), ("07-21 10", 0.81190),
    ("07-21 11", 0.81192),
]

REGRESSION_LOWER = [
    ("07-08 08", 0.80698), ("07-08 09", 0.80709), ("07-08 10", 0.80715), ("07-08 11", 0.80726),
    ("07-08 12", 0.80735), ("07-08 13", 0.80747), ("07-08 14", 0.80756), ("07-08 15", 0.80764),
    ("07-08 16", 0.80766), ("07-08 17", 0.80764), ("07-08 18", 0.80761), ("07-08 20", 0.80761),
    ("07-08 22", 0.80760), ("07-09 00", 0.80758), ("07-09 01", 0.80750), ("07-09 02", 0.80735),
    ("07-09 03", 0.80724), ("07-09 04", 0.80707), ("07-09 05", 0.80696), ("07-09 06", 0.80679),
    ("07-09 07", 0.80662), ("07-09 08", 0.80654), ("07-09 09", 0.80650), ("07-09 10", 0.80645),
    ("07-09 11", 0.80641), ("07-09 12", 0.80634), ("07-09 13", 0.80622), ("07-09 14", 0.80611),
    ("07-09 15", 0.80600), ("07-09 16", 0.80592), ("07-09 17", 0.80585), ("07-09 18", 0.80580),
    ("07-09 19", 0.80577), ("07-09 20", 0.80574), ("07-09 21", 0.80569), ("07-09 22", 0.80563),
    ("07-09 23", 0.80555), ("07-10 00", 0.80520), ("07-10 01", 0.80458), ("07-10 02", 0.80424),
    ("07-10 03", 0.80407), ("07-10 04", 0.80396), ("07-10 05", 0.80390), ("07-10 06", 0.80387),
    ("07-10 08", 0.80388), ("07-10 10", 0.80388), ("07-10 12", 0.80390), ("07-10 14", 0.80395),
    ("07-10 15", 0.80390), ("07-10 17", 0.80396), ("07-10 18", 0.80398), ("07-10 19", 0.80401),
    ("07-10 20", 0.80404),
    ("07-12 21", 0.80401), ("07-13 00", 0.80404), ("07-13 02", 0.80412), ("07-13 04", 0.80430),
    ("07-13 06", 0.80455), ("07-13 08", 0.80478), ("07-13 10", 0.80495), ("07-13 12", 0.80505),
    ("07-13 13", 0.80528), ("07-13 14", 0.80562), ("07-13 15", 0.80593), ("07-13 16", 0.80621),
    ("07-13 17", 0.80647), ("07-13 18", 0.80679), ("07-13 19", 0.80708), ("07-13 20", 0.80740),
    ("07-13 21", 0.80775), ("07-13 22", 0.80813), ("07-13 23", 0.80846), ("07-14 00", 0.80880),
    ("07-14 01", 0.80903), ("07-14 02", 0.80920), ("07-14 03", 0.80935), ("07-14 04", 0.80952),
    ("07-14 05", 0.80974), ("07-14 06", 0.80995), ("07-14 07", 0.81008), ("07-14 08", 0.81026),
    ("07-14 09", 0.81037), ("07-14 10", 0.81048), ("07-14 11", 0.81035), ("07-14 12", 0.80990),
    ("07-14 13", 0.80958), ("07-14 14", 0.80932), ("07-14 15", 0.80915), ("07-14 16", 0.80896),
    ("07-14 17", 0.80880), ("07-14 18", 0.80862), ("07-14 19", 0.80847), ("07-14 20", 0.80835),
    ("07-14 21", 0.80822), ("07-14 22", 0.80808), ("07-14 23", 0.80795), ("07-15 00", 0.80775),
    ("07-15 02", 0.80750), ("07-15 03", 0.80728), ("07-15 05", 0.80712), ("07-15 06", 0.80698),
    ("07-15 08", 0.80686), ("07-15 09", 0.80680), ("07-15 11", 0.80673), ("07-15 12", 0.80667),
    ("07-15 13", 0.80634), ("07-15 14", 0.80600), ("07-15 15", 0.80571), ("07-15 16", 0.80527),
    ("07-15 17", 0.80478), ("07-15 18", 0.80445), ("07-15 19", 0.80405), ("07-15 20", 0.80365),
    ("07-15 21", 0.80335), ("07-15 22", 0.80305), ("07-15 23", 0.80278), ("07-16 00", 0.80254),
    ("07-16 02", 0.80225), ("07-16 03", 0.80205), ("07-16 04", 0.80188), ("07-16 05", 0.80178),
    ("07-16 06", 0.80170), ("07-16 08", 0.80161), ("07-16 10", 0.80155), ("07-16 12", 0.80152),
    ("07-16 14", 0.80151), ("07-16 16", 0.80152), ("07-16 18", 0.80154), ("07-16 20", 0.80152),
    ("07-16 22", 0.80148), ("07-17 00", 0.80147), ("07-17 01", 0.80152), ("07-17 02", 0.80158),
    ("07-17 03", 0.80167), ("07-17 04", 0.80180), ("07-17 05", 0.80197), ("07-17 06", 0.80214),
    ("07-17 07", 0.80232), ("07-17 08", 0.80250), ("07-17 09", 0.80268), ("07-17 10", 0.80285),
    ("07-17 11", 0.80302), ("07-17 12", 0.80322), ("07-17 13", 0.80343), ("07-17 14", 0.80363),
    ("07-17 15", 0.80385), ("07-17 16", 0.80399), ("07-17 17", 0.80410), ("07-17 18", 0.80418),
    ("07-17 19", 0.80423), ("07-17 20", 0.80423),
    ("07-19 21", 0.80423), ("07-19 22", 0.80427), ("07-19 23", 0.80435), ("07-20 00", 0.80440),
    ("07-20 02", 0.80445), ("07-20 04", 0.80450), ("07-20 05", 0.80452), ("07-20 07", 0.80452),
    ("07-20 08", 0.80448), ("07-20 09", 0.80452), ("07-20 10", 0.80457), ("07-20 11", 0.80466),
    ("07-20 12", 0.80482), ("07-20 13", 0.80497), ("07-20 14", 0.80515), ("07-20 15", 0.80540),
    ("07-20 16", 0.80578), ("07-20 17", 0.80628), ("07-20 18", 0.80668), ("07-20 19", 0.80695),
    ("07-20 20", 0.80708), ("07-20 21", 0.80716), ("07-20 22", 0.80728), ("07-20 23", 0.80737),
    ("07-21 00", 0.80744), ("07-21 02", 0.80752), ("07-21 04", 0.80762), ("07-21 05", 0.80765),
    ("07-21 07", 0.80772), ("07-21 08", 0.80776), ("07-21 09", 0.80779), ("07-21 10", 0.80784),
    ("07-21 11", 0.80790),
]

SERIES = [
    ("Close", CLOSE, "#1f77b4"),
    ("Basis EMA", BASIS_EMA, "#ff7f0e"),
    ("Upper band", UPPER_BAND, "#2ca02c"),
    ("Lower band", LOWER_BAND, "#d62728"),
    ("Regression mid", REGRESSION_MID, "#9467bd"),
    ("Regression upper", REGRESSION_UPPER, "#8c564b"),
    ("Regression lower", REGRESSION_LOWER, "#e377c2"),
]


def to_xy(pairs):
    t = pd.to_datetime([f"{YEAR}-{s}:00" for s, _ in pairs])
    v = [val for _, val in pairs]
    return t, v


fig = go.Figure()
all_t, all_v = [], []
for name, pairs, color in SERIES:
    t, v = to_xy(pairs)
    all_t.extend(t)
    all_v.extend(v)
    fig.add_trace(go.Scatter(x=t, y=v, mode="lines", name=name,
                             line=dict(color=color, width=2)))

t0, t1 = min(all_t), max(all_t)
tpad = (t1 - t0) * 0.05
v0, v1 = min(all_v), max(all_v)
vpad = (v1 - v0) * 0.05

FONT = "DejaVu Sans"
GRID = "rgba(176,176,176,0.32)"
TICK_SIZE = 15.2

fig.update_layout(
    width=1600, height=800,
    margin=dict(l=95, r=20, t=43, b=67, autoexpand=False),
    plot_bgcolor="white", paper_bgcolor="white",
    font=dict(family=FONT, size=TICK_SIZE, color="black"),
    title=dict(text=TITLE, x=0.5, xref="paper", xanchor="center",
               y=1 - 25.5 / 800, yref="container", yanchor="middle",
               font=dict(family=FONT, size=19, color="black")),
    showlegend=True,
    legend=dict(x=0.9946, y=0.992, xanchor="right", yanchor="top",
                bgcolor="rgba(255,255,255,0.8)", bordercolor="#cccccc", borderwidth=1,
                font=dict(family=FONT, size=15), tracegroupgap=0, itemwidth=40),
    xaxis=dict(type="date", range=[t0 - tpad, t1 + tpad],
               tick0="2026-07-09", dtick=2 * 86400000, tickformat="%Y-%m-%d",
               showgrid=True, gridcolor=GRID, gridwidth=1, zeroline=False,
               showline=True, linecolor="black", linewidth=1.2, mirror=True,
               ticks="outside", ticklen=5, tickcolor="black", tickfont=dict(size=TICK_SIZE),
               title=dict(text=X_LABEL, standoff=5, font=dict(size=TICK_SIZE)), automargin=False),
    yaxis=dict(range=[v0 - vpad, v1 + vpad], tick0=0.802, dtick=0.002, tickformat=".3f",
               showgrid=True, gridcolor=GRID, gridwidth=1, zeroline=False,
               showline=True, linecolor="black", linewidth=1.2, mirror=True,
               ticks="outside", ticklen=5, tickcolor="black", tickfont=dict(size=TICK_SIZE),
               title=dict(text=Y_LABEL, standoff=6, font=dict(size=TICK_SIZE)), automargin=False),
    annotations=[dict(text=WATERMARK, xref="paper", yref="paper", x=0.469, y=0.457,
                      xanchor="center", yanchor="middle", showarrow=False, textangle=20,
                      font=dict(family=FONT, size=120, color="rgba(255,255,255,0.65)",
                                shadow="3px 3px 2px rgba(80,80,80,0.45)"))],
)

fig.write_html("out.html")
